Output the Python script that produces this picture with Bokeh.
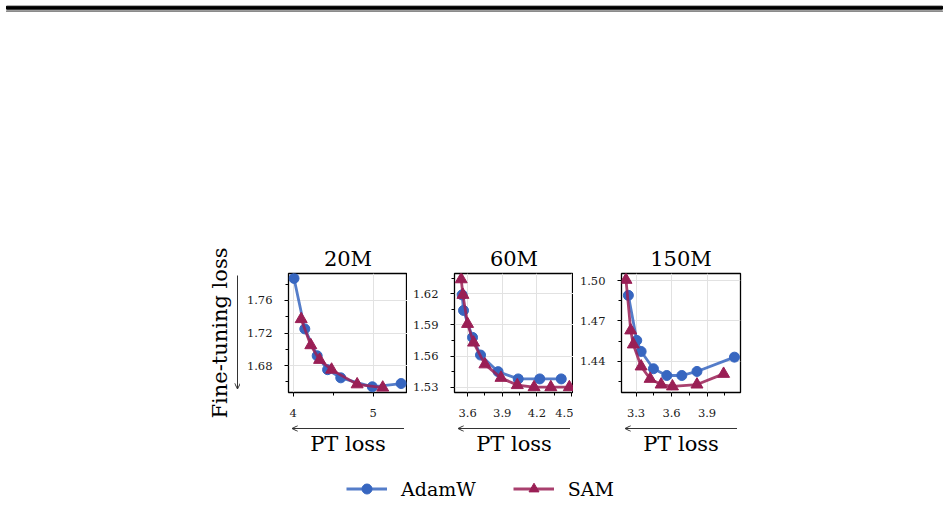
from bokeh.plotting import figure
from bokeh.layouts import column, row
from bokeh.models import (Range1d, FixedTicker, PrintfTickFormatter, Arrow, OpenHead,
                          Legend, LegendItem)
from bokeh.embed import file_html
from bokeh.resources import INLINE

# ---- data: pre-training loss vs fine-tuning loss ----
titles = ["20M", "60M", "150M"]

pt_adamw_20m = [4.01, 4.145, 4.30, 4.43, 4.595, 4.99, 5.35]
ft_adamw_20m = [1.787, 1.725, 1.692, 1.675, 1.665, 1.654, 1.658]
pt_sam_20m = [4.10, 4.22, 4.33, 4.48, 4.80, 5.12]
ft_sam_20m = [1.737, 1.705, 1.687, 1.675, 1.657, 1.653]

pt_adamw_60m = [3.553, 3.565, 3.643, 3.712, 3.864, 4.038, 4.224, 4.41]
ft_adamw_60m = [1.619, 1.604, 1.578, 1.561, 1.545, 1.538, 1.538, 1.538]
pt_sam_60m = [3.545, 3.56, 3.60, 3.652, 3.75, 3.889, 4.03, 4.175, 4.32, 4.48]
ft_sam_60m = [1.634, 1.619, 1.591, 1.573, 1.552, 1.539, 1.532, 1.530, 1.530, 1.530]

pt_adamw_150m = [3.235, 3.306, 3.343, 3.447, 3.56, 3.687, 3.815, 4.132]
ft_adamw_150m = [1.489, 1.4556, 1.4474, 1.4346, 1.4296, 1.4296, 1.4326, 1.4432]
pt_sam_150m = [3.215, 3.255, 3.277, 3.343, 3.419, 3.512, 3.608, 3.815, 4.04]
ft_sam_150m = [1.5005, 1.463, 1.4526, 1.4363, 1.4271, 1.4229, 1.4215, 1.4229, 1.4308]

# axis ranges and ticks per panel
x_ranges = [(3.941, 5.43), (3.487, 4.516), (3.177, 4.183)]
y_ranges = [(1.647, 1.793), (1.5249, 1.6396), (1.417, 1.5052)]
x_ticks = [[4, 5], [3.6, 3.9, 4.2, 4.5], [3.3, 3.6, 3.9]]
x_minor = [[4.5], [3.75, 4.05, 4.35], [3.45, 3.75, 4.05]]
y_ticks = [[1.68, 1.72, 1.76], [1.53, 1.56, 1.59, 1.62], [1.44, 1.47, 1.50]]
y_minor = [[1.66, 1.70, 1.74, 1.78], [1.545, 1.575, 1.605, 1.635], [1.425, 1.455, 1.485]]
x_formats = ["%.0f", "%.1f", "%.1f"]

x_label = "PT loss"
y_label = "Fine-tuning loss"
series_labels = ["AdamW", "SAM"]

BLUE = "#3766c0"
RED = "#9a1f55"
SERIF = "DejaVu Serif"
FW, FH = 119, 119
LW = 2.8
ARROW = "#333333"
TOP = 261          # space above the panel frames
BOTTOM = 30        # space below the panel frames (tick labels)
LEFTS = [48, 47, 48]
RIGHTS = [0, 0, 20]


def at(rng, size, offset_px):
    """Data coordinate lying offset_px pixels from a range's start."""
    return rng.start + offset_px / size * (rng.end - rng.start)


def blank(p):
    p.outline_line_color = None
    p.grid.grid_line_color = None
    p.background_fill_color = None
    return p


def bare_axis(ax, label, standoff):
    ax.ticker = FixedTicker(ticks=[], minor_ticks=[])
    ax.axis_line_color = None
    ax.major_tick_out = 0
    ax.minor_tick_out = 0
    ax.major_label_standoff = 0
    ax.axis_label = label
    ax.axis_label_standoff = standoff
    ax.axis_label_text_font = SERIF
    ax.axis_label_text_font_size = "21px"
    ax.axis_label_text_font_style = "normal"
    ax.axis_label_text_color = "black"


def head():
    return OpenHead(size=6, line_width=1, line_color=ARROW)


def panel(i, pts):
    xr = Range1d(*x_ranges[i])
    yr = Range1d(*y_ranges[i])
    p = figure(frame_width=FW, frame_height=FH, x_range=xr, y_range=yr,
               min_border_left=LEFTS[i], min_border_right=RIGHTS[i],
               min_border_top=TOP, min_border_bottom=BOTTOM,
               title=titles[i], output_backend="svg", toolbar_location=None)
    p.title.text_font = SERIF
    p.title.text_font_size = "21px"
    p.title.text_font_style = "normal"
    p.title.align = "center"
    p.title.standoff = 5
    p.title.text_color = "black"

    p.xaxis.ticker = FixedTicker(ticks=x_ticks[i], minor_ticks=x_minor[i])
    p.yaxis.ticker = FixedTicker(ticks=y_ticks[i], minor_ticks=y_minor[i])
    p.xaxis.formatter = PrintfTickFormatter(format=x_formats[i])
    p.yaxis.formatter = PrintfTickFormatter(format="%.2f")
    for ax in (p.xaxis[0], p.yaxis[0]):
        ax.axis_line_color = None
        ax.major_tick_out = 4
        ax.major_tick_in = 0
        ax.minor_tick_out = 3
        ax.minor_tick_in = 0
        ax.major_tick_line_color = "black"
        ax.minor_tick_line_color = "black"
        ax.major_label_text_font = SERIF
        ax.major_label_text_font_size = "11.5px"
        ax.major_label_text_color = "#1a1a1a"
        ax.major_label_standoff = 12

    p.grid.grid_line_color = "#e2e2e2"
    p.grid.grid_line_width = 1
    p.outline_line_color = "black"
    p.outline_line_width = 1.3
    p.outline_line_alpha = 1

    pa, fa, ps, fs = pts
    p.line(pa, fa, color=BLUE, line_width=LW, line_alpha=0.85)
    p.scatter(pa, fa, marker="circle", size=10, color=BLUE)
    p.line(ps, fs, color=RED, line_width=LW, line_alpha=0.85)
    p.scatter(ps, fs, marker="triangle", size=12, color=RED)
    return p


def x_strip(i, xr):
    """Leftward arrow and 'PT loss' label under panel i (shares its x range)."""
    s = figure(frame_width=FW, frame_height=6, x_range=xr, y_range=Range1d(0, 1),
               min_border_left=LEFTS[i] + (240 if i == 0 else 0), min_border_right=RIGHTS[i],
               min_border_top=3, min_border_bottom=31, y_axis_location=None,
               output_backend="svg", toolbar_location=None)
    blank(s)
    bare_axis(s.xaxis[0], x_label, 0)
    s.add_layout(Arrow(end=head(), x_start=at(xr, FW, FW - 3.5), x_end=at(xr, FW, 3.5),
                       y_start=0.5, y_end=0.5, line_width=1, line_color=ARROW))
    return s


panels = [
    panel(0, (pt_adamw_20m, ft_adamw_20m, pt_sam_20m, ft_sam_20m)),
    panel(1, (pt_adamw_60m, ft_adamw_60m, pt_sam_60m, ft_sam_60m)),
    panel(2, (pt_adamw_150m, ft_adamw_150m, pt_sam_150m, ft_sam_150m)),
]

# y label with a downward arrow, aligned with the first panel's frame
yr0 = panels[0].y_range
ylab = figure(frame_width=6, frame_height=FH, x_range=Range1d(0, 1), y_range=yr0,
              min_border_left=234, min_border_right=0,
              min_border_top=TOP, min_border_bottom=BOTTOM, x_axis_location=None,
              output_backend="svg", toolbar_location=None)
blank(ylab)
bare_axis(ylab.yaxis[0], y_label, 3)
ylab.add_layout(Arrow(end=head(), x_start=0.5, x_end=0.5,
                      y_start=at(yr0, FH, FH - 2), y_end=at(yr0, FH, 3.5),
                      line_width=1, line_color=ARROW))

strips = [x_strip(i, panels[i].x_range) for i in range(3)]

# page rule at the top
rule = figure(width=948, height=12, x_range=Range1d(0, 948), y_range=Range1d(12, 0),
              x_axis_location=None, y_axis_location=None, min_border=0,
              output_backend="svg", toolbar_location=None)
blank(rule)
rule.quad(left=[6], right=[942], top=[5.7], bottom=[8.7], color="black")
rule.quad(left=[6], right=[942], top=[10.2], bottom=[11.4], color="#8c8c8c")

# shared legend strip; its series sit outside the strip's (0, 1) ranges,
# so only the legend entries show
lf = figure(width=948, height=70, x_range=Range1d(0, 1), y_range=Range1d(0, 1),
            x_axis_location=None, y_axis_location=None, min_border=0,
            output_backend="svg", toolbar_location=None)
blank(lf)
la = lf.line(pt_adamw_20m, ft_adamw_20m, color=BLUE, line_width=LW, line_alpha=0.85)
lsa = lf.scatter(pt_adamw_20m, ft_adamw_20m, marker="circle", size=10, color=BLUE)
ls = lf.line(pt_sam_20m, ft_sam_20m, color=RED, line_width=LW, line_alpha=0.85)
lss = lf.scatter(pt_sam_20m, ft_sam_20m, marker="triangle", size=12, color=RED)
legend = Legend(items=[LegendItem(label=series_labels[0], renderers=[la, lsa]),
                       LegendItem(label=series_labels[1], renderers=[ls, lss])],
                orientation="horizontal", location=(346, 31),
                glyph_width=41, glyph_height=25, label_standoff=14, spacing=37,
                padding=0, margin=0, border_line_color=None, background_fill_alpha=0,
                label_text_font=SERIF, label_text_font_size="19px", label_text_color="black")
lf.add_layout(legend, "center")

layout = column(rule, row(ylab, *panels), row(*strips), lf)

with open("out.html", "w") as fh:
    fh.write(file_html(layout, INLINE))
